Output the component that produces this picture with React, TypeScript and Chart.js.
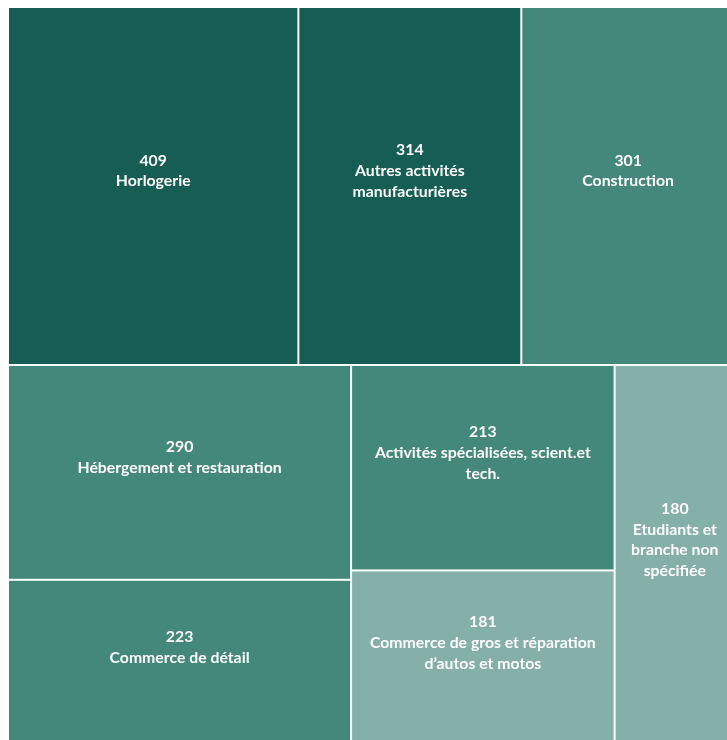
import React, { useEffect, useRef } from "react";
import { Chart, registerables } from "chart.js";

Chart.register(...registerables);

// ---- Data ----
const categories: string[][] = [
  ["Horlogerie"],
  ["Autres activités", "manufacturières"],
  ["Construction"],
  ["Hébergement et restauration"],
  ["Commerce de détail"],
  ["Activités spécialisées, scient.et", "tech."],
  ["Commerce de gros et réparation", "d’autos et motos"],
  ["Etudiants et", "branche non", "spécifiée"],
];
const values: number[] = [409, 314, 301, 290, 223, 213, 181, 180];

// ---- Style ----
const cellColors = [
  "#165E54",
  "#165E54",
  "#43887B",
  "#43887B",
  "#43887B",
  "#43887B",
  "#85B0AA",
  "#85B0AA",
];
const FONT = "bold 15.8px Lato, 'Open Sans', sans-serif";
const LINE_H = 20.8;
const GAP = 1;
const LABEL_SHIFT = -15;

type Rect = { x0: number; y0: number; x1: number; y1: number };

// d3-style squarified treemap (golden ratio) in pixel-proportional space
function squarify(vals: number[], w: number, h: number): Rect[] {
  const ratio = (1 + Math.sqrt(5)) / 2;
  const out: Rect[] = new Array(vals.length);
  let x0 = 0, y0 = 0, x1 = w, y1 = h;
  let value = vals.reduce((a, b) => a + b, 0);
  const n = vals.length;
  let i0 = 0, i1 = 0;
  while (i0 < n) {
    const dx = x1 - x0, dy = y1 - y0;
    let sumValue = vals[i1++];
    let minValue = sumValue, maxValue = sumValue;
    const alpha = Math.max(dy / dx, dx / dy) / (value * ratio);
    let beta = sumValue * sumValue * alpha;
    let minRatio = Math.max(maxValue / beta, beta / minValue);
    for (; i1 < n; ++i1) {
      const nv = vals[i1];
      sumValue += nv;
      const mn = Math.min(minValue, nv);
      const mx = Math.max(maxValue, nv);
      beta = sumValue * sumValue * alpha;
      const newRatio = Math.max(mx / beta, beta / mn);
      if (newRatio > minRatio) {
        sumValue -= nv;
        break;
      }
      minValue = mn;
      maxValue = mx;
      minRatio = newRatio;
    }
    const dice = dx < dy;
    if (dice) {
      const ny = value ? y0 + (dy * sumValue) / value : y1;
      let cx = x0;
      for (let i = i0; i < i1; i++) {
        const cw = (dx * vals[i]) / sumValue;
        out[i] = { x0: cx, y0: y0, x1: cx + cw, y1: ny };
        cx += cw;
      }
      y0 = ny;
    } else {
      const nx = value ? x0 + (dx * sumValue) / value : x1;
      let cy = y0;
      for (let i = i0; i < i1; i++) {
        const ch = (dy * vals[i]) / sumValue;
        out[i] = { x0: x0, y0: cy, x1: nx, y1: cy + ch };
        cy += ch;
      }
      x0 = nx;
    }
    value -= sumValue;
    i0 = i1;
  }
  return out;
}

const treemapPlugin = {
  id: "treemapCells",
  afterDatasetsDraw(chart: any) {
    const { ctx, chartArea, scales } = chart;
    const xs = scales.x;
    const ys = scales.y;
    const W = chartArea.right - chartArea.left;
    const H = chartArea.bottom - chartArea.top;
    const rects = squarify(values, W, H);
    ctx.save();
    rects.forEach((r, i) => {
      const px0 = xs.getPixelForValue(r.x0 / W);
      const px1 = xs.getPixelForValue(r.x1 / W);
      const py0 = ys.getPixelForValue(r.y0 / H);
      const py1 = ys.getPixelForValue(r.y1 / H);
      const left = Math.min(px0, px1) + GAP;
      const right = Math.max(px0, px1) - GAP;
      const top = Math.min(py0, py1) + GAP;
      const bottom = Math.max(py0, py1) - GAP;
      ctx.fillStyle = cellColors[i];
      ctx.fillRect(left, top, right - left, bottom - top);

      const lines = [String(values[i]), ...categories[i]];
      ctx.fillStyle = "#FFFFFF";
      ctx.font = FONT;
      ctx.textAlign = "center";
      ctx.textBaseline = "middle";
      const cx = (left + right) / 2;
      const cy = (top + bottom) / 2 + LABEL_SHIFT;
      const startY = cy - ((lines.length - 1) * LINE_H) / 2;
      lines.forEach((ln, k) => {
        ctx.fillText(ln, cx, startY + k * LINE_H);
      });
    });
    ctx.restore();
  },
};

export default function App() {
  const canvasRef = useRef<HTMLCanvasElement | null>(null);

  useEffect(() => {
    if (!canvasRef.current) return;
    const chart = new Chart(canvasRef.current, {
      type: "scatter",
      data: {
        datasets: [{ data: [], pointRadius: 0 }],
      },
      options: {
        animation: false,
        responsive: true,
        maintainAspectRatio: false,
        layout: { padding: 0 },
        plugins: {
          legend: { display: false },
          tooltip: { enabled: false },
        },
        scales: {
          x: { type: "linear", min: 0, max: 1, display: false },
          y: { type: "linear", min: 0, max: 1, reverse: true, display: false },
        },
      },
      plugins: [treemapPlugin],
    });
    return () => chart.destroy();
  }, []);

  return (
    <div
      style={{
        position: "fixed",
        left: 8,
        top: 7,
        width: 727,
        height: 738,
        background: "#FFFFFF",
      }}
    >
      <canvas ref={canvasRef} />
    </div>
  );
}
